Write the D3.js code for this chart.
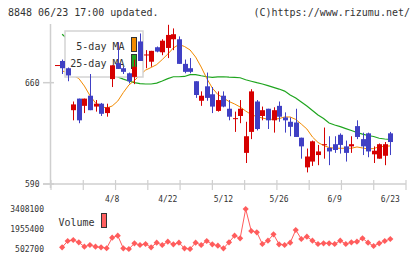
<!DOCTYPE html>
<html><head><meta charset="utf-8">
<script src="https://cdn.jsdelivr.net/npm/d3@7/dist/d3.min.js"></script>
<style>body{margin:0;background:#fff}svg{display:block}</style></head>
<body>
<svg id="c" width="420" height="259"></svg>
<script>
// ---- data ----
const opens  = [671.8,675,670,641,649,644,651,643.5,645.5,639,662.5,673.5,670,666.5,664,688.5,679,674.5,684.5,681,684,690,690,673,670,661,647.5,657.5,652,640.5,651,642,635,637,611.5,626,647,637,642,634,644,636,633,632.5,622,601.5,605.5,610,617,615,617.5,624,616,616,630,621,625,610.5,607.5,609.5,625];
const highs  = [672.2,676,670.5,647,649,649,666,648,646,645.5,672,688,671,667,676,694,682.5,682,685,690,700,697.5,692,676,677,661,654,667,657,654,654,648,640,648,633,655.5,648,643.5,642,643,647,639.5,636,642,622,614.5,620,617,629,623,623,625,620,623,634,625.5,625.5,616,618,619,626];
const lows   = [671.8,666,661,634,632,639,641,640,637,636.5,657,669.5,666,659.5,659,675,670,671,681,679,677,682.5,673,666.5,666.5,649.5,644,647.5,639,640,643,634,626,632,604.5,621,627,634,628,625.5,633,625.5,623,622.5,607.5,598,602.5,603,607.5,603,611.5,611,605.5,611.5,621,610,608.5,604.5,607.5,603,610];
const closes = [672.2,670,665,645,634,649,641,645.5,638.5,643,672,669.5,667.5,661,671,675,679.5,682,681.5,689,693,693.5,673,667.5,667.5,651.5,651,649.5,643.5,648,643.5,636.5,635.5,642,623,654,628,641,634,641,636.5,634,629.5,622.5,616,609,619.5,612.5,617.5,612.5,613.5,617,611.5,617.5,622.5,616,612.5,613,617.5,617.5,619];
const ma5  = [null,668.1,667,665,662.9,657.7,651.1,646,643.5,642.5,643.9,647.3,653.2,658.4,661.5,665.3,668.7,670.5,672.5,676,679.8,684,686.4,685,682.6,677.7,670.8,662.9,656.3,651.8,649.4,647,645.3,643.2,640.4,638,636.5,635.6,634.7,634.7,635.2,636.3,636.3,634.6,631.4,628,622.5,618.7,616.6,615.2,614.7,614.7,614.7,614.7,615.6,614.9,614.2,614.5,615.7,616.1,616.3];
const ma25 = [null,693.5,690,686,682,678.5,675.5,672.5,670,668,666,664,662.5,661.2,660,659.3,659.1,659.1,659.7,661.2,662.8,664.1,664.1,664.3,665.6,665.6,664.8,664.1,663.7,664,664.1,663.8,663.7,663.4,662,661,660,659.1,658,656.8,655.6,654.2,651.5,649.4,646.6,643.9,640.8,637.7,635.2,632.1,630.8,629.6,628.3,627,625.6,624.5,623.5,622.8,621.6,621.1,620.9];
const volume = [null,626000,1083800,1156400,989400,669800,793200,669800,626200,560000,1323500,1468700,553500,502700,916700,793200,865900,626200,960300,793200,1033000,844100,960300,553500,502700,960300,793200,1083800,844100,742400,553500,989400,1468700,1279900,3408100,1810100,1715700,865900,1105600,1570400,844100,793200,960300,1882800,1229100,1396100,1105600,865900,916700,916700,865900,1105600,865900,989400,1033000,1279900,960300,720600,916700,1083800,1229100];
const tickIdx    = [10,20,30,40,50,60];
const tickLabels = ["4/8","4/22","5/12","5/26","6/9","6/23"];
const priceTicks = [660,590];
const volTicks   = [3408100,1955400,502700];
const headerLeft = "8848 06/23 17:00 updated.";
const headerRight = "(C)https://www.rizumu.net/";
const legendItems = ["5-day MA","25-day MA"];

// ---- drawing ----
const svg = d3.select("#c");
const MONO = "'DejaVu Sans Mono', 'Liberation Mono', monospace";
const RED = "#d60000", BLUE = "#4040c4", ORANGE = "#f28a00", GREEN = "#1fa51f", VOL = "#ff5c5c", AX = "#cfcfcf", TXT = "#333";

const x = d3.scaleLinear().domain([-1, 63]).range([51, 407]);
const y = d3.scaleLinear().domain([590, 700]).range([184, 24.8]);
const yv = d3.scaleLinear().domain([502700, 3408100]).range([249, 209]);
const grid = d3.scaleLinear().domain([0, 11]).range([51, 406]);

// header
svg.append("text").attr("x", 8).attr("y", 16).attr("font-family", MONO).attr("font-size", 10).attr("fill", TXT).text(headerLeft);
svg.append("text").attr("x", 410).attr("y", 16).attr("text-anchor", "end").attr("font-family", MONO).attr("font-size", 10).attr("fill", TXT).text(headerRight);

// axes
svg.append("line").attr("x1", 50.5).attr("x2", 50.5).attr("y1", 24).attr("y2", 188).attr("stroke", AX).attr("stroke-width", 1.5);
svg.append("line").attr("x1", 43).attr("x2", 406).attr("y1", y(590)).attr("y2", y(590)).attr("stroke", AX).attr("stroke-width", 1.5);
svg.selectAll(".pt").data(priceTicks).enter().append("line")
  .attr("x1", 43).attr("x2", 54).attr("y1", d => y(d)).attr("y2", d => y(d)).attr("stroke", AX).attr("stroke-width", 1.5);
svg.selectAll(".ptl").data(priceTicks).enter().append("text")
  .attr("x", 39.5).attr("y", d => y(d) + 3).attr("text-anchor", "end")
  .attr("font-family", MONO).attr("font-size", 8).attr("fill", TXT).text(d => d);
svg.selectAll(".gx").data(d3.range(12)).enter().append("line")
  .attr("x1", d => grid(d)).attr("x2", d => grid(d)).attr("y1", 180).attr("y2", 190)
  .attr("stroke", AX).attr("stroke-width", 1.2);
svg.selectAll(".xl").data(tickIdx).enter().append("text")
  .attr("x", d => x(d)).attr("y", 202).attr("text-anchor", "middle")
  .attr("font-family", MONO).attr("font-size", 8).attr("fill", TXT).text((d, i) => tickLabels[i]);

// moving averages
const idx = d3.range(opens.length);
const mkLine = arr => d3.line().defined(i => arr[i] != null).x(i => x(i)).y(i => y(arr[i]));
svg.append("path").attr("d", mkLine(ma25)(idx)).attr("fill", "none").attr("stroke", GREEN).attr("stroke-width", 1.2);
svg.append("path").attr("d", mkLine(ma5)(idx)).attr("fill", "none").attr("stroke", ORANGE).attr("stroke-width", 1);

// legend
const lg = svg.append("g");
lg.append("rect").attr("x", 65).attr("y", 31).attr("width", 78).attr("height", 46)
  .attr("fill", "#fff").attr("stroke", "#d4d4d4").attr("stroke-width", 1.5);
lg.selectAll("text").data(legendItems).enter().append("text")
  .attr("x", 124.5).attr("y", (d, i) => 50 + i * 17).attr("text-anchor", "end")
  .attr("font-family", MONO).attr("font-size", 10).attr("fill", TXT).text(d => d);
lg.selectAll(".sw").data([ORANGE, GREEN]).enter().append("rect")
  .attr("x", 131.5).attr("y", (d, i) => 37.5 + i * 17).attr("width", 5).attr("height", 14)
  .attr("fill", d => d).attr("stroke", "#333").attr("stroke-width", 1);

// candles
const cg = svg.append("g");
idx.forEach(i => {
  const cx = Math.round(x(i));
  const col = closes[i] >= opens[i] ? RED : BLUE;
  cg.append("line").attr("x1", cx + 0.5).attr("x2", cx + 0.5)
    .attr("y1", y(highs[i])).attr("y2", y(lows[i])).attr("stroke", col).attr("stroke-width", 1);
  const top = y(Math.max(opens[i], closes[i])), bot = y(Math.min(opens[i], closes[i]));
  cg.append("rect").attr("x", cx - 2).attr("y", top).attr("width", 5)
    .attr("height", Math.max(1, bot - top)).attr("fill", col);
});

// volume
const vline = d3.line().defined(i => volume[i] != null).x(i => x(i)).y(i => yv(volume[i]));
svg.append("path").attr("d", vline(idx)).attr("fill", "none").attr("stroke", VOL).attr("stroke-width", 1);
svg.selectAll(".vd").data(idx.filter(i => volume[i] != null)).enter().append("path")
  .attr("d", d3.symbol().type(d3.symbolSquare).size(19))
  .attr("transform", i => `translate(${x(i)},${yv(volume[i])}) rotate(45)`).attr("fill", VOL);
svg.selectAll(".vl").data(volTicks).enter().append("text")
  .attr("x", 44).attr("y", d => yv(d) + 3).attr("text-anchor", "end")
  .attr("font-family", MONO).attr("font-size", 8).attr("fill", TXT).text(d => d);
svg.append("text").attr("x", 58.5).attr("y", 226).attr("font-family", MONO).attr("font-size", 10).attr("fill", TXT).text("Volume");
svg.append("rect").attr("x", 101.5).attr("y", 213.5).attr("width", 5).attr("height", 14)
  .attr("fill", "#ff6060").attr("stroke", "#333").attr("stroke-width", 1);
</script>
</body></html>
